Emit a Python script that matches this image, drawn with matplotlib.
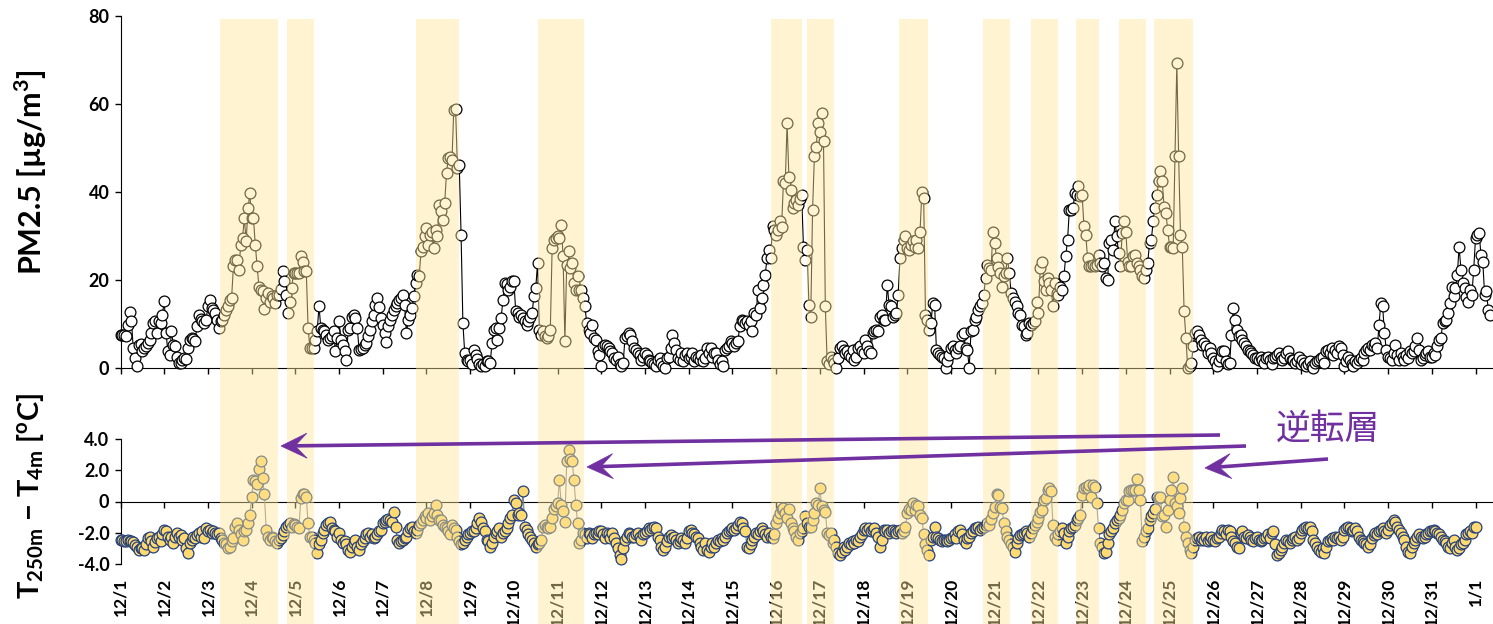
import numpy as np
import matplotlib
matplotlib.use('Agg')
import matplotlib.pyplot as plt
from matplotlib.patches import Rectangle, Polygon
from matplotlib.lines import Line2D
from matplotlib.transforms import blended_transform_factory

plt.rcParams['font.family'] = ['Lato', 'DejaVu Sans']
plt.rcParams['font.weight'] = 'bold'
plt.rcParams['mathtext.fontset'] = 'custom'
plt.rcParams['mathtext.rm'] = 'Lato'
plt.rcParams['mathtext.bf'] = 'Lato:bold'

# ---------------------------------------------------------------------------
# Data: hourly values, one row per day starting 12/1 00:00
#
pm25 = [
    [7.4, 7.4, 7.6, 7.3, 9.8, 12.7, 10.7, 4.5, 2.3, 0.4, 5.3, 5.5, 3.8, 4.5, 4.9, 5.7, 6.4, 8.0, 10.2, 10.6, 8.0, 10.6, 10.2, 12.0],
    [15.3, 8.0, 3.8, 3.0, 8.3, 5.3, 4.9, 2.6, 1.1, 1.1, 1.9, 2.3, 2.0, 4.5, 6.4, 6.8, 6.6, 6.1, 9.5, 12.1, 11.2, 10.6, 10.2, 11.0],
    [14.0, 15.5, 13.6, 13.2, 12.5, 11.0, 9.1, 10.6, 11.0, 12.1, 13.2, 14.0, 15.5, 15.9, 23.1, 24.6, 24.6, 22.3, 28.0, 29.5, 34.0, 28.8, 36.3, 39.7],
    [34.0, 34.0, 28.0, 23.1, 18.5, 17.8, 17.4, 13.4, 15.9, 17.0, 15.1, 16.3, 15.9, 14.8, 16.7, 16.5, 18.0, 22.0, 19.7, 16.7, 12.5, 15.1, 18.2, 21.6],
    [21.6, 21.6, 21.6, 25.4, 24.2, 22.0, 22.0, 9.1, 4.5, 4.5, 4.5, 6.4, 8.5, 14.0, 9.1, 8.7, 8.3, 7.6, 6.4, 6.8, 7.2, 8.3, 3.8, 6.8],
    [10.6, 6.4, 5.3, 3.8, 1.9, 8.7, 9.1, 11.7, 12.1, 11.4, 9.1, 4.2, 4.4, 4.6, 5.3, 5.7, 7.2, 8.7, 10.6, 12.0, 14.4, 15.9, 13.8, 11.4],
    [9.8, 7.9, 6.0, 9.5, 11.0, 12.1, 13.2, 14.0, 14.8, 15.5, 15.9, 16.7, 14.4, 7.9, 11.0, 12.1, 13.6, 16.3, 19.3, 21.2, 20.8, 26.5, 27.6, 29.9],
    [31.8, 28.0, 30.3, 31.0, 27.3, 31.4, 29.9, 37.1, 35.6, 33.7, 37.5, 44.3, 47.7, 48.0, 47.3, 58.7, 58.8, 45.4, 46.2, 30.3, 10.2, 3.4, 1.9, 1.5],
    [1.9, 0.8, 4.2, 3.0, 2.0, 0.8, 0.4, 0.8, 0.4, 1.5, 1.5, 1.2, 5.7, 8.7, 9.1, 6.4, 9.1, 11.4, 15.5, 19.3, 19.0, 17.8, 18.5, 19.7],
    [19.7, 12.9, 12.5, 11.7, 12.1, 11.4, 10.6, 9.8, 10.6, 11.7, 12.5, 16.3, 18.2, 23.8, 8.7, 7.6, 8.3, 7.2, 6.8, 7.2, 8.7, 27.3, 29.1, 29.5],
    [29.9, 29.5, 32.6, 25.4, 6.1, 23.5, 26.5, 22.7, 23.8, 19.3, 17.8, 20.8, 17.8, 17.8, 15.9, 14.0, 10.2, 8.7, 7.9, 9.8, 6.8, 6.4, 3.8, 3.0],
    [0.4, 4.9, 5.3, 4.9, 4.5, 3.8, 3.4, 2.3, 1.9, 2.6, 0.8, 0.4, 1.1, 6.8, 7.2, 7.9, 7.6, 6.1, 4.5, 4.2, 3.4, 3.0, 1.9, 2.6],
    [3.4, 3.0, 1.9, 1.5, 1.1, 0.8, 0.4, 1.9, 2.3, 1.1, 0.4, 0.0, 2.3, 2.6, 4.5, 7.6, 5.7, 4.2, 2.3, 1.9, 3.4, 1.5, 3.0, 3.4],
    [2.3, 2.6, 3.4, 1.5, 2.6, 2.3, 1.9, 3.0, 1.5, 2.3, 4.5, 3.4, 4.5, 2.6, 3.4, 3.4, 1.9, 0.8, 1.5, 0.4, 4.2, 4.5, 4.9, 6.1],
    [5.7, 4.9, 5.7, 6.1, 9.5, 11.0, 10.6, 10.2, 10.6, 9.8, 10.6, 8.3, 12.5, 12.1, 17.8, 13.6, 15.9, 18.9, 21.2, 25.0, 26.9, 25.0, 32.2, 31.4],
    [30.3, 31.4, 33.3, 32.0, 42.4, 42.0, 55.6, 43.5, 40.5, 36.3, 37.5, 38.2, 37.0, 38.5, 39.4, 27.5, 24.6, 26.9, 14.4, 11.7, 36.0, 48.1, 50.3, 55.6],
    [53.7, 57.9, 51.5, 14.0, 1.5, 0.8, 2.6, 1.9, 1.2, 0.0, 2.3, 4.5, 4.9, 4.2, 3.4, 3.8, 3.0, 2.6, 4.2, 1.9, 2.6, 4.5, 4.9, 3.8],
    [3.4, 6.4, 4.9, 3.8, 3.4, 7.9, 8.3, 8.7, 8.3, 11.7, 12.1, 11.0, 11.0, 18.9, 14.4, 14.0, 11.7, 12.1, 12.5, 16.7, 25.0, 27.3, 29.1, 29.9],
    [27.3, 26.9, 28.0, 28.8, 27.6, 29.1, 27.3, 31.0, 39.9, 38.6, 12.1, 11.0, 8.7, 10.2, 14.8, 14.4, 4.2, 3.4, 3.0, 2.6, 2.3, 0.0, 1.5, 3.0],
    [4.5, 4.9, 4.2, 3.4, 4.5, 4.9, 7.6, 7.9, 4.5, 4.2, 0.0, 8.3, 8.7, 11.0, 11.7, 13.2, 14.0, 14.8, 16.7, 20.4, 23.5, 22.7, 22.3, 31.0],
    [28.4, 25.0, 23.0, 21.6, 18.5, 20.8, 21.6, 25.0, 21.6, 17.0, 15.9, 15.1, 14.0, 12.5, 12.1, 9.8, 9.5, 7.6, 7.9, 10.2, 9.8, 10.2, 10.6, 15.1],
    [12.5, 22.7, 24.2, 19.7, 17.8, 20.4, 19.3, 17.8, 14.0, 19.3, 17.0, 16.7, 18.5, 17.8, 20.8, 25.4, 29.1, 36.0, 36.0, 36.3, 39.7, 39.4, 41.3, 39.0],
    [39.4, 32.2, 30.3, 25.0, 23.1, 23.1, 23.5, 23.1, 23.5, 25.7, 23.8, 23.1, 23.8, 20.4, 20.0, 28.4, 29.1, 26.9, 33.3, 30.0, 26.1, 23.1, 30.7, 33.3],
    [31.0, 24.2, 23.1, 23.1, 25.4, 25.7, 23.8, 23.1, 22.3, 20.8, 20.4, 22.3, 23.8, 28.4, 29.1, 33.3, 36.3, 39.4, 42.4, 44.7, 42.4, 36.7, 35.2, 31.4],
    [27.6, 27.6, 27.3, 48.1, 69.3, 48.1, 30.3, 27.6, 12.9, 6.8, 0.0, 0.4, 1.1, 4.9, 7.9, 8.5, 7.6, 6.4, 5.3, 5.7, 4.9, 3.4, 4.5, 3.4],
    [2.3, 1.5, 0.4, 1.5, 2.6, 3.8, 3.8, 1.5, 0.8, 1.1, 7.6, 13.6, 11.0, 8.7, 7.2, 7.6, 6.4, 5.7, 4.9, 4.2, 3.8, 3.4, 3.0, 2.3],
    [2.3, 1.9, 2.6, 1.9, 1.1, 2.3, 2.6, 1.9, 0.8, 2.3, 2.6, 3.0, 3.4, 2.6, 1.9, 2.3, 3.4, 3.8, 2.3, 1.9, 1.9, 1.1, 1.5, 2.6],
    [0.8, 1.9, 1.1, 0.4, 0.8, 1.5, 0.4, 0.0, 1.1, 1.5, 1.9, 2.3, 2.6, 1.1, 3.8, 4.2, 3.4, 4.5, 3.0, 4.2, 3.4, 4.9, 4.5, 3.0],
    [0.4, 1.5, 2.6, 1.9, 0.8, 0.4, 1.5, 1.1, 1.9, 2.3, 1.9, 3.4, 4.2, 4.5, 4.2, 5.3, 4.9, 5.7, 4.5, 9.8, 14.8, 14.0, 7.9, 4.2],
    [2.6, 2.3, 1.9, 3.4, 5.3, 3.0, 1.9, 3.4, 2.6, 1.9, 3.0, 2.3, 3.8, 3.4, 3.8, 4.9, 6.8, 4.2, 1.9, 2.3, 3.0, 3.4, 3.8, 2.6],
    [2.5, 3.4, 3.0, 4.9, 6.4, 6.8, 10.2, 10.6, 11.0, 12.5, 14.8, 18.5, 16.3, 18.2, 21.2, 27.6, 22.3, 19.3, 18.1, 16.2, 15.1, 17.7, 16.6, 22.3],
    [29.5, 30.2, 30.6, 25.7, 24.2, 16.6, 17.5, 13.2, 12.0],
]

# T(250 m) - T(4 m), deg C
dtemp = [
    [-2.45, -2.45, -2.5, -2.55, -2.45, -2.55, -2.55, -2.6, -2.8, -2.9, -3.1, -2.95, -3.0, -3.1, -2.7, -2.35, -2.3, -2.5, -2.9, -2.6, -2.35, -2.3, -2.5, -2.1],
    [-1.8, -1.9, -2.25, -2.45, -2.25, -2.65, -2.25, -2.0, -2.25, -2.15, -2.45, -2.35, -3.0, -3.3, -2.65, -2.45, -2.25, -2.35, -2.15, -2.0, -2.25, -1.9, -2.35, -1.7],
    [-1.9, -1.8, -2.0, -1.9, -2.0, -2.1, -2.0, -2.35, -2.45, -2.65, -2.75, -3.0, -2.9, -2.55, -2.35, -1.6, -1.4, -1.8, -2.1, -2.45, -1.9, -1.8, -1.4, -0.85],
    [0.3, 1.4, 1.3, 1.1, 2.1, 2.6, 1.5, 0.45, -1.8, -2.25, -2.45, -2.25, -2.35, -2.55, -2.65, -2.45, -2.35, -2.15, -1.9, -1.6, -1.5, -1.4, -1.6, -1.45],
    [-1.5, -1.6, -1.7, 0.2, 0.5, 0.45, 0.3, -1.4, -2.25, -2.25, -2.45, -2.65, -3.3, -2.75, -2.45, -2.0, -1.8, -1.5, -1.4, -1.3, -1.7, -1.8, -1.9, -2.25],
    [-2.0, -2.45, -2.65, -2.55, -2.75, -3.1, -3.2, -2.9, -2.65, -2.45, -2.9, -3.1, -2.75, -2.55, -2.35, -2.1, -2.0, -2.25, -2.1, -2.35, -2.25, -2.1, -1.9, -1.8],
    [-1.4, -1.3, -1.2, -1.1, -1.2, -1.3, -0.65, -1.6, -2.45, -2.65, -2.55, -2.45, -2.35, -2.25, -1.9, -1.7, -1.6, -1.9, -2.0, -1.8, -1.5, -1.4, -1.2, -0.95],
    [-1.05, -0.75, -1.2, -0.95, -0.75, -0.2, -0.85, -1.2, -1.2, -1.5, -1.6, -1.7, -1.9, -2.1, -1.5, -1.7, -1.8, -2.25, -2.55, -2.75, -2.65, -2.45, -2.25, -2.1],
    [-2.0, -1.9, -1.9, -1.7, -1.4, -1.05, -1.3, -1.7, -1.9, -2.45, -2.55, -2.9, -2.65, -2.25, -2.0, -1.9, -1.7, -2.25, -2.0, -1.9, -1.7, -1.4, -1.05, -0.85],
    [0.1, -0.1, -0.85, -0.75, -0.85, 0.65, -1.6, -1.8, -2.1, -2.25, -2.45, -2.65, -2.9, -2.75, -2.65, -2.45, -1.6, -1.5, -1.6, -1.7, -1.6, -1.05, -0.5, -0.3],
    [-0.1, 1.35, -0.2, -0.6, -1.3, 2.6, 3.3, 2.7, 2.6, 1.35, -0.2, -1.4, -2.65, -2.45, -2.0, -2.1, -2.35, -2.0, -2.1, -2.35, -2.1, -2.0, -2.1, -1.9],
    [-1.9, -2.1, -2.35, -2.0, -2.1, -2.35, -2.0, -2.35, -2.65, -3.0, -3.4, -3.7, -3.0, -2.45, -2.25, -2.0, -2.1, -2.25, -2.25, -2.1, -2.0, -2.25, -2.45, -2.1],
    [-2.0, -1.9, -1.7, -1.8, -1.7, -1.6, -1.7, -2.25, -2.45, -2.9, -3.1, -2.9, -2.55, -2.25, -2.15, -2.35, -2.25, -2.45, -2.65, -2.55, -2.35, -2.45, -2.65, -2.35],
    [-1.9, -1.8, -2.0, -2.1, -2.25, -2.35, -2.65, -2.9, -3.1, -2.65, -3.1, -3.2, -2.9, -2.65, -2.9, -2.65, -2.45, -2.55, -2.35, -2.45, -2.25, -2.0, -1.9, -1.8],
    [-1.7, -1.8, -1.7, -1.5, -1.3, -1.4, -1.7, -1.9, -2.9, -3.0, -2.75, -2.45, -2.25, -2.0, -2.1, -1.9, -1.7, -1.9, -2.1, -2.25, -2.0, -2.25, -2.35, -2.1],
    [-1.4, -1.05, -0.75, -0.5, -0.4, -0.75, -1.05, -0.5, -1.4, -1.7, -1.9, -2.25, -2.45, -2.0, -1.9, -1.7, -0.95, -1.4, -1.6, -1.6, -1.2, -0.75, -0.1, -0.2],
    [0.85, -0.3, -0.55, -0.65, -2.0, -2.15, -2.0, -2.65, -2.45, -2.9, -3.3, -3.4, -3.2, -2.9, -3.1, -2.9, -2.65, -2.75, -2.55, -2.65, -2.45, -2.55, -2.25, -2.1],
    [-1.8, -1.7, -1.8, -1.7, -1.9, -1.8, -1.7, -2.0, -2.25, -2.9, -2.45, -1.8, -1.9, -1.8, -2.0, -1.9, -1.8, -1.9, -2.0, -1.9, -1.8, -2.0, -1.9, -1.6],
    [-0.75, -0.45, -0.55, -0.1, -0.55, -0.2, -0.3, -0.85, -1.05, -2.1, -2.75, -3.1, -3.4, -2.45, -2.25, -1.6, -2.25, -2.35, -2.45, -2.55, -2.45, -2.45, -2.55, -2.45],
    [-2.35, -2.25, -2.1, -2.35, -1.9, -1.8, -2.1, -2.45, -2.65, -2.35, -2.25, -2.0, -1.9, -1.7, -1.7, -1.6, -1.8, -1.7, -1.6, -1.5, -1.4, -1.5, -1.15, -0.75],
    [-0.35, 0.5, 0.4, -0.35, -0.4, -1.4, -1.9, -2.25, -2.45, -2.75, -2.9, -3.2, -2.65, -2.35, -2.15, -2.1, -2.0, -1.9, -2.0, -2.25, -2.0, -1.7, -1.5, -1.3],
    [-1.05, -0.65, -0.55, 0.1, 0.2, 0.75, 0.85, 0.65, -1.5, -2.25, -2.45, -2.1, -1.9, -1.7, -2.0, -2.65, -2.25, -1.9, -1.7, -1.6, -1.5, -1.2, -1.05, -0.85],
    [0.4, 0.85, 0.95, 0.85, 1.05, 0.3, 1.05, 0.95, -0.1, -1.7, -2.65, -2.9, -3.3, -3.2, -2.65, -2.1, -1.9, -1.7, -1.4, -1.2, -1.05, -0.85, -0.55, -0.1],
    [0.1, 0.1, 0.65, 0.75, 0.75, 0.75, 1.45, 0.75, 0.1, -2.55, -2.25, -1.9, -1.7, -1.2, -0.95, -0.75, -0.45, 0.3, 0.2, 0.3, -0.95, -0.85, -1.6, -0.55],
    [0.1, 0.75, 1.6, -0.1, -0.3, -0.75, 0.2, 0.85, -1.6, -2.25, -2.65, -3.1, -3.3, -2.9, -2.45, -2.35, -2.25, -2.45, -2.35, -2.45, -2.25, -2.55, -2.45, -2.25],
    [-2.45, -2.55, -2.35, -2.25, -2.0, -1.8, -1.9, -2.1, -1.8, -1.9, -2.25, -2.55, -2.65, -2.9, -3.0, -2.0, -1.9, -2.25, -2.35, -2.15, -2.25, -2.45, -2.55, -2.35],
    [-2.25, -2.45, -2.55, -2.45, -2.35, -2.25, -2.1, -2.35, -2.0, -1.9, -2.75, -3.4, -3.3, -3.1, -2.9, -2.65, -2.45, -2.55, -2.65, -2.45, -2.35, -2.25, -2.45, -2.35],
    [-2.0, -1.8, -1.7, -1.6, -1.7, -1.6, -1.9, -2.45, -2.65, -2.9, -3.1, -3.2, -3.0, -3.3, -2.9, -2.55, -2.45, -2.35, -2.45, -2.25, -2.35, -2.25, -2.45, -2.25],
    [-1.8, -1.7, -1.6, -1.7, -1.9, -1.8, -1.7, -1.9, -2.25, -2.45, -2.55, -2.65, -2.75, -2.9, -2.75, -2.35, -2.15, -2.0, -2.1, -1.9, -1.8, -1.7, -1.9, -2.0],
    [-1.8, -1.5, -1.4, -1.2, -1.3, -1.6, -1.8, -2.0, -2.25, -2.45, -2.9, -3.2, -3.3, -2.9, -2.65, -2.45, -2.25, -2.1, -2.25, -2.35, -2.25, -2.1, -2.0, -1.9],
    [-1.9, -1.8, -1.9, -2.0, -2.1, -2.25, -2.45, -2.55, -2.65, -2.9, -3.0, -2.65, -2.45, -2.9, -3.1, -3.0, -2.75, -2.65, -2.45, -2.1, -2.0, -1.9, -2.0, -1.65],
    [-1.6],
]

day_labels = ['12/%d' % d for d in range(1, 32)] + ['1/1']

# inversion periods (hours from 12/1 00:00)
inversion_bands = [
    (54.4, 86.6), (91.3, 106.3), (162.5, 185.9), (229.5, 254.6),
    (356.9, 374.3), (377.2, 391.9), (427.2, 443.5), (473.8, 488.5),
    (500.2, 515.0), (524.4, 537.4), (548.5, 563.3), (567.7, 589.1),
]

FIG_W, FIG_H = 1493, 624
PURPLE = '#7030A0'

pm = np.concatenate([np.array(r, dtype=float) for r in pm25])
dt = np.concatenate([np.array(r, dtype=float) for r in dtemp])
pm_x = np.arange(len(pm)) / 24.0
dt_x = np.arange(len(dt)) / 24.0
ticks = np.arange(len(day_labels))

#--------------------------------------------------------------------------
# Figure
#
fig = plt.figure(figsize=(FIG_W / 100, FIG_H / 100), dpi=100)

left = 120.5 / FIG_W
width = 1 - left
ax1 = fig.add_axes([left, 1 - 368 / FIG_H, width, 352 / FIG_H])
ax2 = fig.add_axes([left, 1 - 564 / FIG_H, width, 125 / FIG_H])
xmax = (FIG_W - 120.5) / 43.71

# PM2.5
ax1.plot(pm_x, pm, '-', color='black', lw=0.8, marker='o', ms=7.8,
         mfc='white', mec='black', mew=0.9, clip_on=False, zorder=3)
ax1.set_xlim(0, xmax)
ax1.set_ylim(0, 80)
ax1.set_yticks(np.arange(0, 81, 20))
ax1.set_xticks(ticks)
ax1.set_xticklabels([])
for s in ('top', 'right'):
    ax1.spines[s].set_visible(False)
ax1.tick_params(axis='x', direction='out', length=4, width=1)
ax1.tick_params(axis='y', direction='out', length=4, width=1, labelsize=13, pad=4)

# temperature difference
ax2.plot(dt_x, dt, '-', color='#808080', lw=0.8, marker='o', ms=7.8,
         mfc='#FFD971', mec='#24407A', mew=0.9, clip_on=False, zorder=3)
ax2.set_xlim(0, xmax)
ax2.set_ylim(-4, 4)
ax2.set_yticks([-4, -2, 0, 2, 4])
ax2.set_yticklabels(['-4.0', '-2.0', '0', '2.0', '4.0'])
ax2.set_xticks(ticks)
ax2.set_xticklabels(day_labels)
for s in ('top', 'right'):
    ax2.spines[s].set_visible(False)
ax2.spines['bottom'].set_position(('data', 0))
ax2.tick_params(axis='x', direction='out', length=4, width=1, labelsize=12.5,
                pad=51, labelrotation=90)
ax2.tick_params(axis='y', direction='out', length=4, width=1, labelsize=13, pad=4)

# axis titles
fig.text(31 / FIG_W, 1 - 172 / FIG_H, 'PM2.5 [µg/m$^{\\mathbf{3}}$]', rotation=90,
         fontsize=22, fontweight='bold', ha='center', va='center')
fig.text(31 / FIG_W, 1 - 496 / FIG_H,
         '$\\mathbf{T_{250m}}$ \u2212 $\\mathbf{T_{4m}}$ [$^{\\mathbf{o}}$C]',
         rotation=90, fontsize=21, fontweight='bold', ha='center', va='center')

# inversion bands laid over everything, down to the bottom of the figure
trans = blended_transform_factory(ax1.transData, fig.transFigure)
for s, e in inversion_bands:
    fig.add_artist(Rectangle((s / 24.0, 0), (e - s) / 24.0, 1 - 19 / FIG_H,
                             transform=trans, facecolor='#FFE699', alpha=0.45,
                             edgecolor='none', zorder=10))


def px(x, y):
    return x / FIG_W, 1 - y / FIG_H


def stealth_arrow(x0, y0, x1, y1, lw=2.6, head_len=26, head_w=12.5, notch=12):
    # arrow given in pixel coordinates (y downwards)
    p0 = np.array([x0, y0], float)
    p1 = np.array([x1, y1], float)
    u = (p1 - p0) / np.hypot(*(p1 - p0))
    n = np.array([-u[1], u[0]])
    back = p1 - head_len * u
    nk = p1 - (head_len - notch) * u
    fig.add_artist(Line2D(*zip(px(*p0), px(*nk)), color=PURPLE, lw=lw,
                          solid_capstyle='butt', zorder=20))
    pts = [p1, back + head_w * n, nk, back - head_w * n]
    fig.add_artist(Polygon([px(*p) for p in pts], closed=True, facecolor=PURPLE,
                           edgecolor=PURPLE, lw=0.5, zorder=21))


stealth_arrow(1220, 435, 281, 446)
stealth_arrow(1246, 446, 587, 467)
stealth_arrow(1328, 459, 1205, 468)

fig.text(1328 / FIG_W, 1 - 429 / FIG_H, '逆転層', color=PURPLE, fontsize=25,
         fontweight='normal', family=['Noto Sans CJK JP', 'DejaVu Sans'],
         ha='center', va='center', zorder=22)

fig.savefig('out.png', dpi=100)
